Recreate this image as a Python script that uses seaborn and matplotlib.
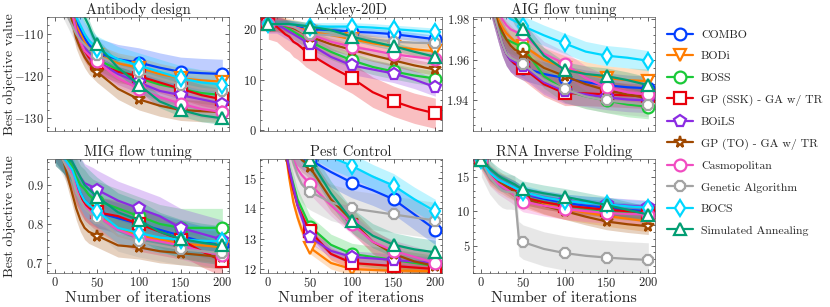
import matplotlib
matplotlib.use("Agg")
import matplotlib.pyplot as plt
import seaborn as sns
from matplotlib.lines import Line2D
from matplotlib.ticker import AutoMinorLocator

iters = [0, 10, 20, 25, 30, 35, 40, 45, 50, 75, 100, 125, 150, 175, 200]

methods = ["COMBO", "BODi", "BOSS", "GP (SSK) - GA w/ TR", "BOiLS",
           "GP (TO) - GA w/ TR", "Casmopolitan", "Genetic Algorithm",
           "BOCS", "Simulated Annealing"]

antibody = [
    [-95, -98, -104, -107, -109, -111, -112.5, -113.5, -114.5, -116, -116.8, -118, -119, -119.3, -119.5],
    [-95, -98, -104, -108, -110, -112, -113.5, -114.5, -115, -117, -118, -119.5, -120.5, -121, -121.3],
    [-95, -98, -105, -109, -111, -113, -114.5, -115.5, -116, -118.5, -120.5, -122, -123, -124, -124.5],
    [-95, -98, -106, -110, -112, -114, -115.5, -116.5, -117, -119, -120, -121.5, -123, -124.5, -125.5],
    [-95, -98, -105, -109, -111, -113, -114.5, -115.5, -116.5, -119.5, -121.5, -123.5, -124.5, -125.5, -126.5],
    [-95, -98, -107, -111, -113.5, -115.5, -117, -118, -119, -123, -125.5, -127, -128, -128.3, -128.5],
    [-95, -98, -105, -109.5, -112, -114, -115, -116, -116.5, -120.5, -123, -125, -126.5, -127.8, -128.5],
    [-100, -104, -108, -110, -111.5, -112.5, -113.5, -114.5, -115, -117.5, -119, -120.5, -122, -123, -123.5],
    [-95, -98, -103, -106, -108, -110, -111.5, -112.5, -113.5, -116, -117.5, -119, -120.5, -121.5, -122],
    [-90, -94, -99, -102, -104, -106, -108, -110.5, -112.5, -118, -122, -126, -128, -129.3, -130],
]
antibody_spread = [3.5, 2.5, 2.5, 2.5, 2.5, 2.5, 2.0, 2.5, 3.0, 1.5]

ackley = [
    [21, 21, 21, 21, 20.8, 20.6, 20.4, 20.2, 20, 19.8, 19.5, 19.3, 19, 18.5, 18],
    [21, 21, 20.8, 20.6, 20.4, 20.2, 20, 19.8, 19.5, 18.8, 18, 17.2, 16.5, 16, 15.6],
    [21, 21, 20.5, 20, 19.5, 19, 18.5, 18, 17.5, 15.5, 13.8, 12.5, 11.6, 10.8, 10.2],
    [21, 20.5, 19, 18.5, 17.5, 17, 16.3, 15.5, 15, 12.5, 10.3, 7.5, 5.7, 4.3, 3.3],
    [21, 21, 20, 19.5, 19, 18.5, 18, 17.5, 17, 14.5, 12.8, 12, 11.2, 10, 8.5],
    [21, 21, 20.8, 20.5, 20.2, 19.8, 19.4, 19, 18.5, 17, 15.9, 14.8, 13.8, 12.8, 12],
    [21, 21, 20.8, 20.6, 20.4, 20.2, 19.8, 19.4, 19, 17.5, 16.5, 15.8, 15, 14.5, 14],
    [21, 21, 21, 20.8, 20.5, 20, 19.5, 19.2, 19, 18.8, 18.5, 18, 17.5, 17.3, 17.2],
    [21, 21, 21, 21, 20.9, 20.8, 20.7, 20.6, 20.5, 20.5, 20.5, 20.3, 20, 19.7, 19.4],
    [21, 21, 21, 21, 20.9, 20.8, 20.7, 20.6, 20.5, 19.8, 18.5, 17.5, 16.6, 15.5, 14.5],
]
ackley_spread = [0.8, 1.5, 1.5, 3.0, 1.8, 1.2, 1.2, 1.0, 0.8, 0.8]

aig = [
    [2.0, 1.99, 1.975, 1.968, 1.963, 1.96, 1.958, 1.957, 1.956, 1.953, 1.951, 1.949, 1.9475, 1.9465, 1.946],
    [2.0, 1.99, 1.98, 1.976, 1.973, 1.971, 1.969, 1.968, 1.967, 1.96, 1.956, 1.953, 1.951, 1.95, 1.9495],
    [2.0, 1.99, 1.978, 1.973, 1.97, 1.969, 1.968, 1.967, 1.966, 1.952, 1.945, 1.942, 1.94, 1.938, 1.937],
    [2.0, 1.99, 1.975, 1.968, 1.963, 1.96, 1.958, 1.957, 1.956, 1.948, 1.9435, 1.9435, 1.943, 1.9425, 1.942],
    [2.0, 1.99, 1.975, 1.968, 1.963, 1.96, 1.959, 1.958, 1.957, 1.949, 1.9445, 1.943, 1.9415, 1.9405, 1.94],
    [2.0, 1.99, 1.978, 1.974, 1.97, 1.967, 1.965, 1.964, 1.963, 1.956, 1.952, 1.948, 1.945, 1.943, 1.941],
    [2.0, 1.995, 1.985, 1.98, 1.977, 1.975, 1.974, 1.973, 1.9725, 1.963, 1.958, 1.951, 1.9465, 1.944, 1.943],
    [2.0, 1.99, 1.975, 1.968, 1.963, 1.961, 1.96, 1.959, 1.958, 1.95, 1.9455, 1.942, 1.94, 1.939, 1.938],
    [2.0, 2.0, 1.99, 1.985, 1.982, 1.98, 1.979, 1.978, 1.9765, 1.972, 1.968, 1.964, 1.962, 1.961, 1.9595],
    [2.0, 2.0, 2.0, 1.995, 1.99, 1.985, 1.981, 1.978, 1.975, 1.962, 1.955, 1.953, 1.952, 1.95, 1.9475],
]
aig_spread = [0.006, 0.006, 0.006, 0.006, 0.006, 0.005, 0.006, 0.006, 0.005, 0.004]

mig = [
    [1.0, 0.97, 0.93, 0.9, 0.88, 0.86, 0.85, 0.84, 0.83, 0.815, 0.8, 0.785, 0.77, 0.755, 0.745],
    [1.0, 0.97, 0.92, 0.89, 0.87, 0.85, 0.84, 0.83, 0.82, 0.79, 0.77, 0.76, 0.75, 0.745, 0.74],
    [1.0, 0.98, 0.95, 0.92, 0.9, 0.89, 0.875, 0.865, 0.86, 0.84, 0.82, 0.8, 0.79, 0.79, 0.79],
    [1.0, 0.97, 0.93, 0.89, 0.87, 0.85, 0.84, 0.835, 0.83, 0.82, 0.8, 0.78, 0.76, 0.73, 0.705],
    [1.0, 0.98, 0.96, 0.94, 0.92, 0.905, 0.9, 0.895, 0.888, 0.86, 0.84, 0.82, 0.79, 0.775, 0.76],
    [1.0, 0.96, 0.88, 0.84, 0.81, 0.79, 0.78, 0.775, 0.77, 0.745, 0.74, 0.73, 0.725, 0.72, 0.715],
    [1.0, 0.97, 0.93, 0.89, 0.86, 0.845, 0.835, 0.825, 0.82, 0.785, 0.765, 0.755, 0.745, 0.73, 0.72],
    [1.0, 0.96, 0.92, 0.88, 0.86, 0.84, 0.83, 0.82, 0.815, 0.77, 0.755, 0.745, 0.735, 0.73, 0.725],
    [1.0, 0.97, 0.94, 0.91, 0.88, 0.86, 0.85, 0.84, 0.833, 0.79, 0.777, 0.765, 0.76, 0.757, 0.755],
    [1.0, 0.98, 0.96, 0.94, 0.92, 0.9, 0.89, 0.88, 0.87, 0.83, 0.81, 0.78, 0.762, 0.752, 0.745],
]
mig_spread = [0.04, 0.04, 0.05, 0.04, 0.05, 0.03, 0.035, 0.04, 0.04, 0.05]

pest = [
    [17, 17, 16.5, 16.2, 16, 15.9, 15.8, 15.7, 15.6, 15.2, 14.85, 14.6, 14.3, 13.8, 13.3],
    [17, 17, 16, 15, 14.2, 13.7, 13.3, 13, 12.7, 12.2, 12.0, 11.97, 11.95, 11.94, 11.93],
    [17, 17, 16, 15.3, 14.8, 14.3, 14, 13.7, 13.4, 12.8, 12.5, 12.4, 12.3, 12.2, 12.1],
    [17, 17, 16, 15.2, 14.6, 14.1, 13.8, 13.5, 13.25, 12.5, 12.2, 12.15, 12.1, 12.05, 12.0],
    [17, 17, 16, 15.3, 14.7, 14.1, 13.7, 13.3, 13.05, 12.6, 12.4, 12.35, 12.3, 12.25, 12.2],
    [17, 17, 16.5, 16.2, 16, 15.8, 15.6, 15.5, 15.35, 14.3, 13.6, 12.9, 12.5, 12.25, 12.1],
    [17, 17, 16.5, 16, 15.6, 15.3, 15.1, 14.95, 14.8, 14.1, 13.5, 12.9, 12.6, 12.4, 12.2],
    [17, 17, 16.5, 16, 15.5, 15.1, 14.8, 14.65, 14.55, 14.2, 14.0, 13.9, 13.8, 13.7, 13.6],
    [17, 17, 17, 16.8, 16.6, 16.4, 16.3, 16.2, 16.1, 15.7, 15.4, 15.05, 14.75, 14.3, 13.9],
    [17, 17, 16.8, 16.5, 16.3, 16.1, 15.9, 15.75, 15.6, 14.5, 13.6, 13.1, 12.8, 12.65, 12.55],
]
pest_spread = [0.5, 0.2, 0.35, 0.2, 0.2, 0.4, 0.35, 0.6, 0.4, 0.4]

rna = [
    [17.5, 15.5, 14.5, 14.2, 14, 13.7, 13.4, 13, 12.5, 11.8, 11.2, 10.8, 10.5, 10.2, 10],
    [17.5, 15.3, 14.3, 14, 13.6, 13.3, 13, 12.5, 12, 11, 10.3, 9.8, 9.3, 8.9, 8.5],
    [17.5, 15.5, 14.4, 14.1, 13.8, 13.4, 13, 12.5, 12, 11.3, 10.8, 10.4, 10, 9.7, 9.5],
    [17.5, 15.4, 14.4, 14.1, 13.8, 13.4, 13, 12.5, 12, 11.3, 10.8, 10.5, 10.2, 10, 9.8],
    [17.5, 15.6, 14.6, 14.3, 14, 13.7, 13.4, 13, 12.5, 12, 11.5, 11.2, 11, 10.8, 10.6],
    [17.5, 15.3, 14.3, 14, 13.6, 13.2, 12.8, 12.4, 12, 10.8, 10, 9.2, 8.5, 8.1, 7.8],
    [17.5, 15.2, 14, 13.6, 13.2, 12.8, 12.3, 11.8, 11.4, 10.8, 10.3, 10, 9.75, 9.6, 9.5],
    [17.5, 15, 13.5, 13, 12.8, 12.8, 12.7, 6, 5.5, 4.5, 3.9, 3.5, 3.25, 3.05, 2.9],
    [17.5, 15.6, 14.6, 14.3, 14, 13.7, 13.4, 13.1, 12.8, 12, 11.5, 11.2, 11, 10.7, 10.5],
    [17.5, 16.2, 15.2, 14.8, 14.5, 14.2, 13.9, 13.5, 13.2, 12.6, 12.1, 11.5, 10.9, 10.2, 9.5],
]
rna_spread = [1.0, 1.5, 1.0, 1.0, 1.0, 1.2, 1.5, 2.5, 1.0, 1.2]

tasks = [
    ("Antibody design", antibody, antibody_spread, (-133, -106), [-130, -120, -110]),
    ("Ackley-20D", ackley, ackley_spread, (-0.2, 22.4), [0, 10, 20]),
    ("AIG flow tuning", aig, aig_spread, (1.925, 1.981), [1.94, 1.96, 1.98]),
    ("MIG flow tuning", mig, mig_spread, (0.674, 0.967), [0.7, 0.8, 0.9]),
    ("Pest Control", pest, pest_spread, (11.87, 15.63), [12, 13, 14, 15]),
    ("RNA Inverse Folding", rna, rna_spread, (1.0, 17.6), [5, 10, 15]),
]

sns.set_theme(style="ticks")
plt.rcParams.update({
    "font.family": "serif",
    "font.serif": ["cmr10", "DejaVu Serif"],
    "mathtext.fontset": "cm",
    "axes.formatter.use_mathtext": True,
    "axes.unicode_minus": True,
    "xtick.direction": "in",
    "ytick.direction": "in",
    "xtick.top": True,
    "ytick.right": True,
    "xtick.major.size": 3,
    "ytick.major.size": 3,
    "xtick.minor.size": 1.5,
    "ytick.minor.size": 1.5,
    "xtick.major.width": 0.5,
    "ytick.major.width": 0.5,
    "xtick.minor.width": 0.5,
    "ytick.minor.width": 0.5,
    "axes.linewidth": 0.5,
    "axes.edgecolor": "#555555",
})

pal = sns.color_palette("bright")
colors = [pal[0], pal[1], pal[2], pal[3], pal[4], pal[5], pal[6], pal[7], pal[9], "#029e73"]
markers = ["o", "v", "o", "s", "p", "*", "o", "8", "d", "^"]
mark_idx = [0, 8, 10, 12, 14]

fig, axes = plt.subplots(2, 3, figsize=(8.3, 3.07), dpi=100)
fig.subplots_adjust(left=47 / 830, right=655 / 830, bottom=1 - 273 / 307,
                    top=1 - 17 / 307, wspace=0.17, hspace=0.245)

for ax, (title, data, spread, ylim, yticks) in zip(axes.flat, tasks):
    for vals, sd, c in zip(data, spread, colors):
        lo = [v - sd for v in vals]
        hi = [v + sd for v in vals]
        ax.fill_between(iters, lo, hi, color=c, alpha=0.25, lw=0)
    for vals, c, m in zip(data, colors, markers):
        sns.lineplot(x=iters, y=vals, ax=ax, color=c, errorbar=None, lw=1.6,
                     marker=m, markevery=mark_idx, markersize=8.5,
                     markerfacecolor="white", markeredgecolor=c,
                     markeredgewidth=1.6)
    ax.set_xlim(-10, 208)
    ax.set_ylim(*ylim)
    ax.set_yticks(yticks)
    ax.set_xticks([0, 50, 100, 150, 200])
    ax.xaxis.set_minor_locator(AutoMinorLocator(5))
    ax.yaxis.set_minor_locator(AutoMinorLocator(5))
    ax.set_title(title, fontsize=10.5, pad=2)
    ax.tick_params(labelsize=9, pad=2)

for ax in axes[0]:
    ax.tick_params(labelbottom=False)
for ax in axes[1]:
    ax.set_xlabel("Number of iterations", fontsize=11.5, labelpad=1)
for ax in axes[:, 0]:
    ax.set_ylabel("Best objective value", fontsize=10)
    ax.yaxis.set_label_coords(-0.17, 0.5)

handles = [Line2D([0], [0], color=c, lw=1.6, marker=m, markersize=8.5,
                  markerfacecolor="white", markeredgecolor=c, markeredgewidth=1.6)
           for c, m in zip(colors, markers)]
fig.legend(handles, methods, loc="upper left", bbox_to_anchor=(662 / 830, 1 - 25 / 307),
           frameon=False, fontsize=8.5, handlelength=2.2, labelspacing=0.95,
           handletextpad=0.7, borderaxespad=0)

fig.savefig("out.png", dpi=100)
